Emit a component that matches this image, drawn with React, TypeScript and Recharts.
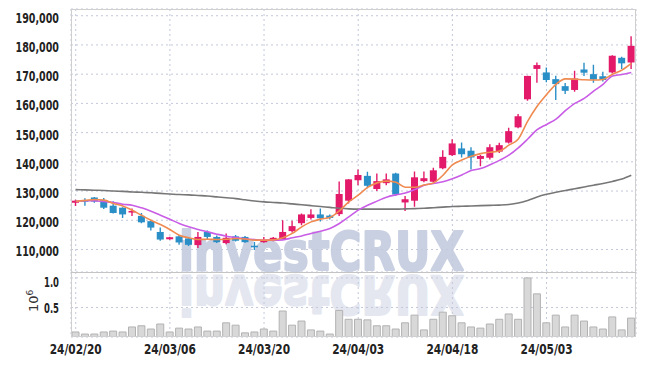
import { ComposedChart, BarChart, Bar, Line, XAxis, YAxis, CartesianGrid } from 'recharts'

// trading days (yy/mm/dd)
const dates = [
  '24/02/20', '24/02/21', '24/02/22', '24/02/23', '24/02/26', '24/02/27', '24/02/28', '24/02/29', '24/03/04', '24/03/05',
  '24/03/06', '24/03/07', '24/03/08', '24/03/11', '24/03/12', '24/03/13', '24/03/14', '24/03/15', '24/03/18', '24/03/19',
  '24/03/20', '24/03/21', '24/03/22', '24/03/25', '24/03/26', '24/03/27', '24/03/28', '24/03/29', '24/04/01', '24/04/02',
  '24/04/03', '24/04/04', '24/04/05', '24/04/08', '24/04/09', '24/04/11', '24/04/12', '24/04/15', '24/04/16', '24/04/17',
  '24/04/18', '24/04/19', '24/04/22', '24/04/23', '24/04/24', '24/04/25', '24/04/26', '24/04/29', '24/04/30', '24/05/02',
  '24/05/03', '24/05/07', '24/05/08', '24/05/09', '24/05/10', '24/05/13', '24/05/14', '24/05/16', '24/05/17', '24/05/20',
]

const opens = [
  126000, 126900, 127800, 126900, 125000, 124300, 122700, 121500, 119700, 116000,
  113500, 114500, 113800, 111500, 116000, 114300, 112200, 114500, 114300, 111300,
  112500, 113000, 113500, 116300, 119000, 120800, 122000, 121600, 122100, 126700,
  133700, 135200, 130700, 132700, 136000, 126100, 126700, 133400, 133200, 137800,
  142300, 144600, 143800, 141000, 141400, 143500, 146600, 151800, 161400, 171800,
  170600, 168300, 165900, 164600, 171600, 170000, 169300, 170600, 175600, 174000,
]
const highs = [
  127000, 127500, 128000, 127600, 126500, 124500, 124000, 122500, 120000, 117500,
  114400, 115000, 114300, 116000, 116500, 114800, 115500, 115000, 114600, 112600,
  114300, 114300, 120000, 119800, 122300, 123800, 124000, 122000, 133300, 134000,
  137400, 136600, 136000, 136000, 136300, 128300, 136700, 136700, 138000, 144000,
  147700, 146600, 145000, 142300, 146000, 146500, 151700, 156400, 169500, 174000,
  172300, 169500, 167000, 171200, 173900, 173200, 170800, 176500, 176000, 183000,
]
const lows = [
  124900, 125000, 126000, 123900, 122300, 120800, 121500, 119000, 116500, 113000,
  113300, 111600, 111200, 110500, 113500, 112200, 111800, 112700, 112300, 109800,
  112300, 112800, 113300, 115800, 118300, 120300, 119600, 120300, 121500, 125700,
  132000, 131000, 130000, 132000, 128300, 123200, 124600, 133000, 133000, 137500,
  142000, 141500, 137400, 138500, 140800, 143000, 146300, 151500, 160900, 167100,
  167200, 161200, 163200, 164000, 169400, 167100, 167500, 170300, 171800, 171800,
]
const closes = [
  126700, 126800, 126400, 124300, 122500, 122000, 123200, 119300, 117500, 113400,
  114200, 112400, 111600, 114300, 114300, 112500, 114000, 113000, 112500, 111200,
  113200, 114000, 116000, 118000, 122000, 122000, 120700, 120800, 129000, 134000,
  135500, 131800, 133400, 134000, 128800, 127200, 134700, 134400, 137100, 141700,
  146300, 142600, 141500, 142000, 145000, 145700, 150500, 155600, 169400, 173100,
  168000, 166600, 164300, 168500, 170500, 168200, 168000, 176300, 173700, 179700,
]

const maShort = [
  126500, 126800, 127100, 126900, 125750, 124900, 123450, 121700, 120000, 118550,
  116850, 114900, 114000, 113400, 113500, 113400, 113500, 113750, 113600, 113200,
  113200, 113300, 114000, 115500, 117750, 119450, 120400, 120950, 123250, 126300,
  128600, 131250, 132800, 133400, 133000, 131300, 131300, 132050, 132800, 135400,
  139000, 140600, 141900, 142800, 143300, 143700, 145700, 147800, 153900, 159000,
  163000, 166500, 168400, 168300, 168100, 168000, 168200, 170000, 171400, 173700,
]
const maMid = [
  126500, 126700, 126700, 126400, 126100, 125500, 125150, 124250, 123100, 121750,
  120350, 118900, 117750, 116850, 116050, 115250, 114550, 114100, 113700, 113400,
  113200, 113200, 113300, 114000, 114650, 115500, 116250, 117200, 118900, 121150,
  123450, 125150, 126550, 127900, 128700, 129300, 130500, 132000, 132600, 133200,
  134200, 135500, 137000, 137700, 139000, 140500, 142300, 144800, 147800, 151000,
  152800, 154600, 157500, 160000, 161700, 164200, 166500, 169400, 169900, 170600,
]
const maLong = [
  130500, 130400, 130300, 130200, 130000, 129900, 129700, 129600, 129400, 129200,
  129000, 128800, 128700, 128500, 128300, 128000, 127700, 127400, 127000, 126600,
  126300, 126100, 125900, 125600, 125300, 125000, 124700, 124400, 124100, 123900,
  123800, 123800, 123800, 123800, 123800, 123900, 124000, 124100, 124300, 124500,
  124700, 124800, 124900, 125000, 125100, 125200, 125400, 125900, 126800, 128000,
  128900, 129600, 130200, 130800, 131400, 132000, 132600, 133300, 134100, 135400,
]

const volumes = [
  85000, 50000, 50000, 85000, 100000, 85000, 170000, 190000, 135000, 220000,
  85000, 150000, 135000, 170000, 100000, 100000, 240000, 200000, 70000, 85000,
  135000, 100000, 440000, 200000, 270000, 120000, 100000, 50000, 450000, 300000,
  300000, 290000, 190000, 190000, 135000, 240000, 370000, 120000, 300000, 420000,
  360000, 240000, 170000, 150000, 220000, 300000, 390000, 300000, 1000000, 730000,
  240000, 370000, 170000, 370000, 270000, 170000, 135000, 340000, 120000, 320000,
]

const priceTicks = [110000, 120000, 130000, 140000, 150000, 160000, 170000, 180000, 190000]
const volumeTicks = [500000, 1000000]
const dateTicks = ['24/02/20', '24/03/06', '24/03/20', '24/04/03', '24/04/18', '24/05/03']

const UP = '#e3196a'
const DOWN = '#2b8fc7'
const GRID = '#c3c8da'
const LABEL_FONT = "'DejaVu Sans Condensed', 'DejaVu Sans', sans-serif"

const rows = dates.map((d, i) => ({
  date: d,
  open: opens[i],
  high: highs[i],
  low: lows[i],
  close: closes[i],
  range: [lows[i], highs[i]],
  ma5: maShort[i],
  ma20: maMid[i],
  ma120: maLong[i],
  vol: volumes[i],
}))

function Candle(props: any) {
  const { x, y, width, height, payload } = props
  if (x == null || y == null) return null
  const top = Math.min(y, y + height)
  const h = Math.abs(height)
  const { open, close, high, low } = payload
  const color = close >= open ? UP : DOWN
  const ratio = high === low ? 0 : h / (high - low)
  const bodyTop = top + (high - Math.max(open, close)) * ratio
  const bodyBot = top + (high - Math.min(open, close)) * ratio
  const cx = x + width / 2
  return (
    <g>
      <line x1={cx} x2={cx} y1={top} y2={top + h} stroke={color} strokeWidth={1.4} />
      <rect x={x} y={bodyTop} width={width} height={Math.max(1.6, bodyBot - bodyTop)} fill={color} />
    </g>
  )
}

function PriceTick(props: any) {
  const { x, y, payload } = props
  const label = payload.value.toLocaleString('en-US')
  return (
    <text x={x} y={y + 7} textAnchor="end" fontFamily={LABEL_FONT} fontWeight="bold" fontSize={14}
      fill="#222" textLength={label.length * 6.2} lengthAdjust="spacingAndGlyphs">
      {label}
    </text>
  )
}

function VolumeTick(props: any) {
  const { x, y, payload } = props
  const label = (payload.value / 1e6).toFixed(1)
  return (
    <text x={x} y={y + 6} textAnchor="end" fontFamily={LABEL_FONT} fontWeight="bold" fontSize={14}
      fill="#222" textLength={15} lengthAdjust="spacingAndGlyphs">
      {label}
    </text>
  )
}

function DateTick(props: any) {
  const { x, y, payload } = props
  return (
    <text x={x} y={y + 9} textAnchor="middle" fontFamily={LABEL_FONT} fontWeight="bold" fontSize={14.5}
      fill="#222" textLength={52} lengthAdjust="spacingAndGlyphs">
      {payload.value}
    </text>
  )
}

export default function App() {
  return (
    <div style={{ position: 'absolute', left: 0, top: 0, width: 645, height: 366, background: '#fff', overflow: 'hidden' }}>
      {/* watermark with reflection */}
      <svg width={645} height={366} style={{ position: 'absolute', left: 0, top: 0 }}>
        <text x={179} y={270} fontFamily="'DejaVu Sans', sans-serif" fontWeight="bold" fontSize={53}
          fill="#c9d0e2" stroke="#c9d0e2" strokeWidth={2.2} strokeLinejoin="round"
          textLength={285} lengthAdjust="spacingAndGlyphs">
          investCRUX
        </text>
        <g transform="translate(0,546) scale(1,-1)">
          <text x={179} y={270} fontFamily="'DejaVu Sans', sans-serif" fontWeight="bold" fontSize={53}
            fill="#e4e7f0" stroke="#e4e7f0" strokeWidth={2.2} strokeLinejoin="round"
            textLength={285} lengthAdjust="spacingAndGlyphs">
            investCRUX
          </text>
        </g>
      </svg>

      <div style={{ position: 'absolute', left: 0, top: 0 }}>
        <ComposedChart width={645} height={272} data={rows} margin={{ top: 9, right: 9, bottom: 0, left: 0 }}>
          <CartesianGrid stroke={GRID} strokeDasharray="2 3" />
          <XAxis dataKey="date" ticks={dateTicks} interval={0} hide />
          <YAxis domain={[102300, 192300]} ticks={priceTicks} width={71} allowDataOverflow
            axisLine={false} tickLine={false} tick={<PriceTick />} tickMargin={6} />
          <Line dataKey="ma120" stroke="#777" strokeWidth={1.6} dot={false} type="monotone" isAnimationActive={false} />
          <Line dataKey="ma20" stroke="#c95de6" strokeWidth={1.6} dot={false} type="monotone" isAnimationActive={false} />
          <Line dataKey="ma5" stroke="#ef8a50" strokeWidth={1.6} dot={false} type="monotone" isAnimationActive={false} />
          <Bar dataKey="range" barSize={7} shape={<Candle />} isAnimationActive={false} />
        </ComposedChart>
      </div>

      <div style={{ position: 'absolute', left: 0, top: 272 }}>
        <BarChart width={645} height={94} data={rows} margin={{ top: 0, right: 9, bottom: 0, left: 0 }} barCategoryGap={1}>
          <CartesianGrid stroke={GRID} strokeDasharray="2 3" />
          <XAxis dataKey="date" ticks={dateTicks} interval={0} height={29} axisLine={false} tickLine={false}
            tick={<DateTick />} />
          <YAxis domain={[0, 1100000]} ticks={volumeTicks} width={71} allowDataOverflow
            axisLine={false} tickLine={false} tick={<VolumeTick />} tickMargin={6} />
          <Bar dataKey="vol" fill="#d8d8d8" stroke="#b2b2b2" strokeWidth={1} isAnimationActive={false} />
        </BarChart>
      </div>

      {/* panel frame */}
      <div style={{ position: 'absolute', left: 71, top: 9, width: 565, height: 328, border: '1px solid #cfcfcf', boxSizing: 'border-box', pointerEvents: 'none' }} />
      <div style={{ position: 'absolute', left: 71, top: 272, width: 565, height: 1, background: '#c4c4c4' }} />

      <svg width={60} height={60} style={{ position: 'absolute', left: 0, top: 272 }}>
        <text transform="rotate(-90 38 40)" x={38} y={40} fontFamily="'DejaVu Sans', sans-serif" fontSize={13} fill="#333">
          10<tspan dy={-5} fontSize={9}>6</tspan>
        </text>
      </svg>
    </div>
  )
}
